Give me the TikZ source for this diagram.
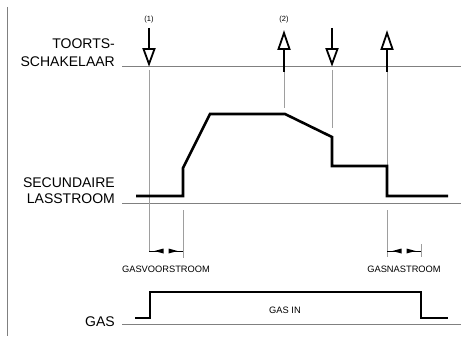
\documentclass[tikz,border=0pt]{standalone}
\usepackage{fontspec}
\setmainfont{Liberation Sans}
\begin{document}
\begin{tikzpicture}[x=1pt,y=-1pt,
  big/.style={font=\fontsize{14}{14}\selectfont, anchor=base east, inner sep=0pt},
  small/.style={font=\fontsize{9.3}{9.3}\selectfont, anchor=base, inner sep=0pt},
  tiny/.style={font=\fontsize{7.5}{7.5}\selectfont, anchor=base, inner sep=0pt},
  axisline/.style={draw=black!50, line width=0.8pt},
  guide/.style={draw=black!38, line width=0.7pt},
  wave/.style={draw=black, line width=2.6pt, line join=miter, line cap=butt},
  dimline/.style={draw=black, line width=1pt},
  dimhead/.style={fill=black},
  downarr/.pic={
    \draw[line width=2.6pt] (0,28) -- (0,49);
    \draw[line width=1.8pt, fill=white, line join=miter] (-5.5,49) -- (5.5,49) -- (0,64) -- cycle;
  },
  uparr/.pic={
    \draw[line width=2.6pt] (0,49) -- (0,72);
    \draw[line width=1.8pt, fill=white, line join=miter] (-5.5,49) -- (5.5,49) -- (0,33) -- cycle;
  }
]
\useasboundingbox (0,0) rectangle (462,339);
\fill[white] (0,0) rectangle (462,339);

% left frame line
\draw[axisline] (7,7) -- (7,336);

% baselines
\coordinate (t0) at (122,66);  \coordinate (t1) at (461,66);
\coordinate (l0) at (122,203); \coordinate (l1) at (461,203);
\coordinate (g0) at (122,324); \coordinate (g1) at (461,324);
\draw[axisline] (t0) -- (t1);
\draw[axisline] (l0) -- (l1);
\draw[axisline] (g0) -- (g1);

% labels
\node[big] (lt1) at (115,49) {TOORTS-};
\node[big] (lt2) at (115,67) {SCHAKELAAR};
\node[big] (ls1) at (115,187) {SECUNDAIRE};
\node[big] (ls2) at (115,203) {LASSTROOM};
\node[big] (lg)  at (115,326) {GAS};

% guide lines
\draw[guide] (149,70) -- (149,252);
\draw[guide] (284,72) -- (284,108);
\draw[guide] (332,70) -- (332,128);
\draw[guide] (387,72) -- (387,165);
\draw[guide] (183,210) -- (183,258);
\draw[guide] (387,210) -- (387,257);
\draw[guide] (421,244) -- (421,257);

% torch switch arrows
\pic at (149,0) {downarr};
\pic at (284,0) {uparr};
\pic at (332,0) {downarr};
\pic at (387,0) {uparr};
\node[tiny] (n1) at (149,22) {(1)};
\node[tiny] (n2) at (284,22) {(2)};

% welding current
\draw[wave] (136,196) -- (183,196) -- (183,168) -- (210,114) -- (285,114)
  -- (332,137) -- (332,166) -- (387,166) -- (387,196) -- (448,196);

% gas
\draw[wave] (135,318) -- (150,318) -- (150,292) -- (421,292) -- (421,318) -- (448,318);
\node[small] (gasin) at (285,313) {GAS IN};

% pre-flow dimension
\draw[dimline] (149,251) -- (163,251);
\draw[dimline] (169,251) -- (183,251);
\fill[dimhead] (163.5,248.5) -- (163.5,253.5) -- (154.5,251) -- cycle;
\fill[dimhead] (168.5,248.5) -- (168.5,253.5) -- (177.5,251) -- cycle;
\node[small] (pre) at (166,272) {GASVOORSTROOM};

% post-flow dimension
\draw[dimline] (387,251) -- (401,251);
\draw[dimline] (407,251) -- (421,251);
\fill[dimhead] (401.5,248.5) -- (401.5,253.5) -- (392.5,251) -- cycle;
\fill[dimhead] (406.5,248.5) -- (406.5,253.5) -- (415.5,251) -- cycle;
\node[small] (post) at (404,272) {GASNASTROOM};
\end{tikzpicture}
\end{document}
